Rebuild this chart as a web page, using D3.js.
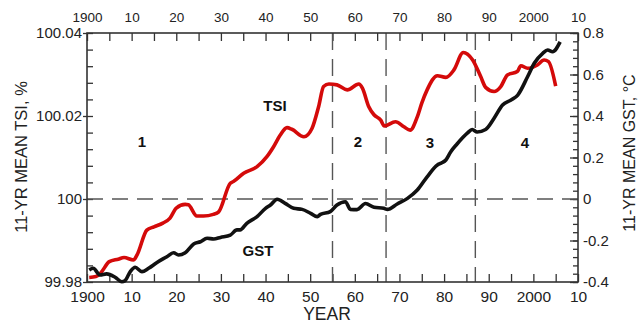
<!DOCTYPE html>
<html>
<head>
<meta charset="utf-8">
<script src="https://cdn.jsdelivr.net/npm/d3@7"></script>
<style>
  body { margin: 0; background: #fff; }
  svg { display: block; font-family: "Liberation Sans", Arial, Helvetica, sans-serif; }
  .axis text { fill: #222; font-family: "Liberation Sans", Arial, Helvetica, sans-serif; }
  .axis line { stroke: #333; stroke-width: 1.3; }
</style>
</head>
<body>
<div id="chart"></div>
<script>
// year labels on the top and bottom axes
var xLabelYears = [1900, 1910, 1920, 1930, 1940, 1950, 1960, 1970, 1980, 1990, 2000, 2010];
var xTickLabels = ["1900", "10", "20", "30", "40", "50", "60", "70", "80", "90", "2000", "10"];

var tsiTicks = [99.98, 100, 100.02, 100.04];
var tsiTickLabels = ["99.98", "100", "100.02", "100.04"];
var gstTicks = [-0.4, -0.2, 0, 0.2, 0.4, 0.6, 0.8];
var gstTickLabels = ["-0.4", "-0.2", "0", "0.2", "0.4", "0.6", "0.8"];

// epoch boundaries (vertical dashed lines)
var epochYears = [1955, 1967, 1987];

// 11-yr running mean TSI, %
var tsiYears = [1900.5, 1902, 1903, 1905, 1907, 1908.3, 1910.4, 1911.2, 1913.4, 1915,
  1917, 1918.6, 1920, 1922, 1922.7, 1924.6, 1926.1, 1928.3, 1929.5, 1932.1,
  1932.8, 1935.1, 1938.1, 1940.3, 1941.8, 1943.3, 1944.8, 1945.9, 1948.6, 1950.4,
  1951.9, 1953, 1954.2, 1956, 1958.3, 1960.9, 1961.7, 1963.1, 1964.3, 1965.8,
  1966.6, 1969.1, 1971, 1972.4, 1974, 1975, 1976.2, 1978.5, 1980.4, 1982.2,
  1984.3, 1986.4, 1988.2, 1989.3, 1991.2, 1992.7, 1994.2, 1996.4, 1997.2, 1998.7,
  2000.9, 2002.4, 2003.4, 2005];
var tsiValues = [99.9811, 99.9813, 99.9821, 99.9849, 99.9855, 99.9859, 99.9853, 99.9865, 99.9925, 99.9933,
  99.9942, 99.9954, 99.9978, 99.9987, 99.9986, 99.9959, 99.9959, 99.9963, 99.9969, 100.0038,
  100.0042, 100.0062, 100.0078, 100.0102, 100.0126, 100.0154, 100.0172, 100.0168, 100.0150, 100.0170,
  100.0223, 100.0271, 100.0277, 100.0275, 100.0263, 100.0277, 100.0267, 100.0223, 100.0203, 100.0190,
  100.0176, 100.0186, 100.0174, 100.0166, 100.0198, 100.0231, 100.0263, 100.0297, 100.0293, 100.0311,
  100.0353, 100.0335, 100.0295, 100.0269, 100.0259, 100.0271, 100.0299, 100.0307, 100.0321, 100.0315,
  100.0323, 100.0335, 100.0331, 100.0272];

// 11-yr running mean GST, deg C
var gstYears = [1900.5, 1901.4, 1902.9, 1904.4, 1906.3, 1907.8, 1908.5, 1909.7, 1910.8, 1912.3,
  1913.8, 1915.6, 1917.9, 1919.4, 1920.5, 1922, 1923.9, 1925.4, 1926.9, 1928.4,
  1929.9, 1932.1, 1933.6, 1934.3, 1935.8, 1938.1, 1940, 1941.1, 1942.6, 1944.4,
  1946.3, 1948.2, 1950.1, 1951.6, 1952.3, 1954.5, 1956, 1957.9, 1959, 1960.5,
  1962.4, 1964.3, 1966.5, 1967.3, 1969.5, 1971.8, 1974, 1976.2, 1978.5, 1979.2,
  1980.4, 1981.5, 1982.9, 1985.2, 1986.3, 1987.4, 1989.3, 1991.2, 1993.1, 1995,
  1996.5, 1998.7, 2000.2, 2002.1, 2003.2, 2004.3, 2006];
var gstValues = [-0.342, -0.334, -0.366, -0.361, -0.377, -0.399, -0.394, -0.350, -0.329, -0.350,
  -0.334, -0.307, -0.278, -0.259, -0.270, -0.259, -0.217, -0.206, -0.189, -0.193,
  -0.185, -0.174, -0.149, -0.149, -0.117, -0.085, -0.045, -0.029, -0.001, -0.021,
  -0.045, -0.050, -0.069, -0.085, -0.074, -0.061, -0.029, -0.013, -0.050, -0.051,
  -0.022, -0.040, -0.045, -0.050, -0.024, 0.003, 0.043, 0.107, 0.164, 0.172,
  0.188, 0.228, 0.265, 0.317, 0.335, 0.323, 0.335, 0.389, 0.453, 0.477,
  0.501, 0.589, 0.654, 0.702, 0.718, 0.710, 0.757];

// labels inside the plot (placed on the TSI scale)
var notes = [
  {text: "1", year: 1912.3, tsi: 100.0138},
  {text: "2", year: 1960.7, tsi: 100.0138},
  {text: "3", year: 1976.8, tsi: 100.0136},
  {text: "4", year: 1998.1, tsi: 100.0137},
  {text: "TSI", year: 1942.1, tsi: 100.0224},
  {text: "GST", year: 1938.3, tsi: 99.9875}
];

var W = 639, H = 324;
var margin = {top: 33, right: 61, bottom: 42, left: 87},
    width = W - margin.left - margin.right,
    height = H - margin.top - margin.bottom;

var x = d3.scaleLinear().domain([1900, 2010]).range([0, width]);
var yL = d3.scaleLinear().domain([99.98, 100.04]).range([height, 0]);
var yR = d3.scaleLinear().domain([-0.4, 0.8]).range([height, 0]);

var svg = d3.select("#chart").append("svg")
    .attr("width", W)
    .attr("height", H);

var g = svg.append("g")
    .attr("transform", "translate(" + margin.left + "," + margin.top + ")");

function yearLabel(d) {
    var i = xLabelYears.indexOf(d);
    return i >= 0 ? xTickLabels[i] : "";
}

var fiveYears = d3.range(1900, 2011, 5);

// bottom axis
var xAxisBottom = g.append("g")
    .attr("class", "axis")
    .attr("transform", "translate(0," + height + ")")
    .call(d3.axisBottom(x).tickValues(fiveYears).tickSize(-8).tickPadding(9).tickFormat(yearLabel));
xAxisBottom.selectAll("text").style("font-size", "15.5px");

// top axis
var xAxisTop = g.append("g")
    .attr("class", "axis")
    .call(d3.axisTop(x).tickValues(fiveYears).tickSize(-8).tickPadding(11).tickFormat(yearLabel));
xAxisTop.selectAll("text").style("font-size", "13.5px");

// left axis: minor ticks inward, labelled ticks outward
g.append("g")
    .attr("class", "axis")
    .call(d3.axisLeft(yL).tickValues(d3.range(0, 16).map(function(i) { return 99.98 + i * 0.004; }))
        .tickSize(-6).tickFormat(""));
var yAxisLeft = g.append("g")
    .attr("class", "axis")
    .call(d3.axisLeft(yL).tickValues(tsiTicks).tickSize(4).tickPadding(1)
        .tickFormat(function(d, i) { return tsiTickLabels[i]; }));
yAxisLeft.selectAll("text").style("font-size", "15px");

// right axis
var yAxisRight = g.append("g")
    .attr("class", "axis")
    .attr("transform", "translate(" + width + ",0)");
yAxisRight.append("g")
    .call(d3.axisRight(yR).tickValues(d3.range(0, 31).map(function(i) { return -0.4 + i * 0.04; }))
        .tickSize(-5).tickFormat(""));
yAxisRight.append("g")
    .call(d3.axisRight(yR).tickValues(gstTicks).tickSize(-8).tickPadding(5)
        .tickFormat(function(d, i) { return gstTickLabels[i]; }))
    .selectAll("text").style("font-size", "15px");

g.selectAll(".domain").remove();

// dashed reference lines
g.append("line")
    .attr("x1", 0).attr("x2", width)
    .attr("y1", yL(100)).attr("y2", yL(100))
    .attr("stroke", "#555").attr("stroke-width", 1.4)
    .attr("stroke-dasharray", "16,9");

g.selectAll(".epoch")
    .data(epochYears)
    .enter().append("line")
    .attr("class", "epoch")
    .attr("x1", function(d) { return x(d); })
    .attr("x2", function(d) { return x(d); })
    .attr("y1", 0).attr("y2", height)
    .attr("stroke", "#555").attr("stroke-width", 1.4)
    .attr("stroke-dasharray", "17,9");

// frame
g.append("rect")
    .attr("width", width).attr("height", height)
    .attr("fill", "none")
    .attr("stroke", "#333").attr("stroke-width", 1.6);

// series
var tsiLine = d3.line()
    .x(function(d, i) { return x(tsiYears[i]); })
    .y(function(d) { return yL(d); })
    .curve(d3.curveMonotoneX);

var gstLine = d3.line()
    .x(function(d, i) { return x(gstYears[i]); })
    .y(function(d) { return yR(d); })
    .curve(d3.curveMonotoneX);

g.append("path")
    .datum(tsiValues)
    .attr("d", tsiLine)
    .attr("fill", "none")
    .attr("stroke", "#d40a0a")
    .attr("stroke-width", 3.6)
    .attr("stroke-linejoin", "round");

g.append("path")
    .datum(gstValues)
    .attr("d", gstLine)
    .attr("fill", "none")
    .attr("stroke", "#111")
    .attr("stroke-width", 3.6)
    .attr("stroke-linejoin", "round");

// in-plot labels
g.selectAll(".note")
    .data(notes)
    .enter().append("text")
    .attr("class", "note")
    .attr("x", function(d) { return x(d.year); })
    .attr("y", function(d) { return yL(d.tsi); })
    .attr("dy", "0.36em")
    .attr("text-anchor", "middle")
    .style("font-size", "15px")
    .style("font-weight", "bold")
    .style("fill", "#111")
    .text(function(d) { return d.text; });

// axis titles
svg.append("text")
    .attr("transform", "translate(27," + 157 + ") rotate(-90)")
    .attr("text-anchor", "middle")
    .style("font-size", "16.5px")
    .style("fill", "#222")
    .text("11-YR MEAN TSI, %");

svg.append("text")
    .attr("transform", "translate(635," + 153 + ") rotate(-90)")
    .attr("text-anchor", "middle")
    .style("font-size", "16px")
    .style("fill", "#222")
    .text("11-YR MEAN GST, °C");

svg.append("text")
    .attr("x", 327)
    .attr("y", 320)
    .attr("text-anchor", "middle")
    .style("font-size", "17.5px")
    .style("fill", "#222")
    .text("YEAR");
</script>
</body>
</html>
